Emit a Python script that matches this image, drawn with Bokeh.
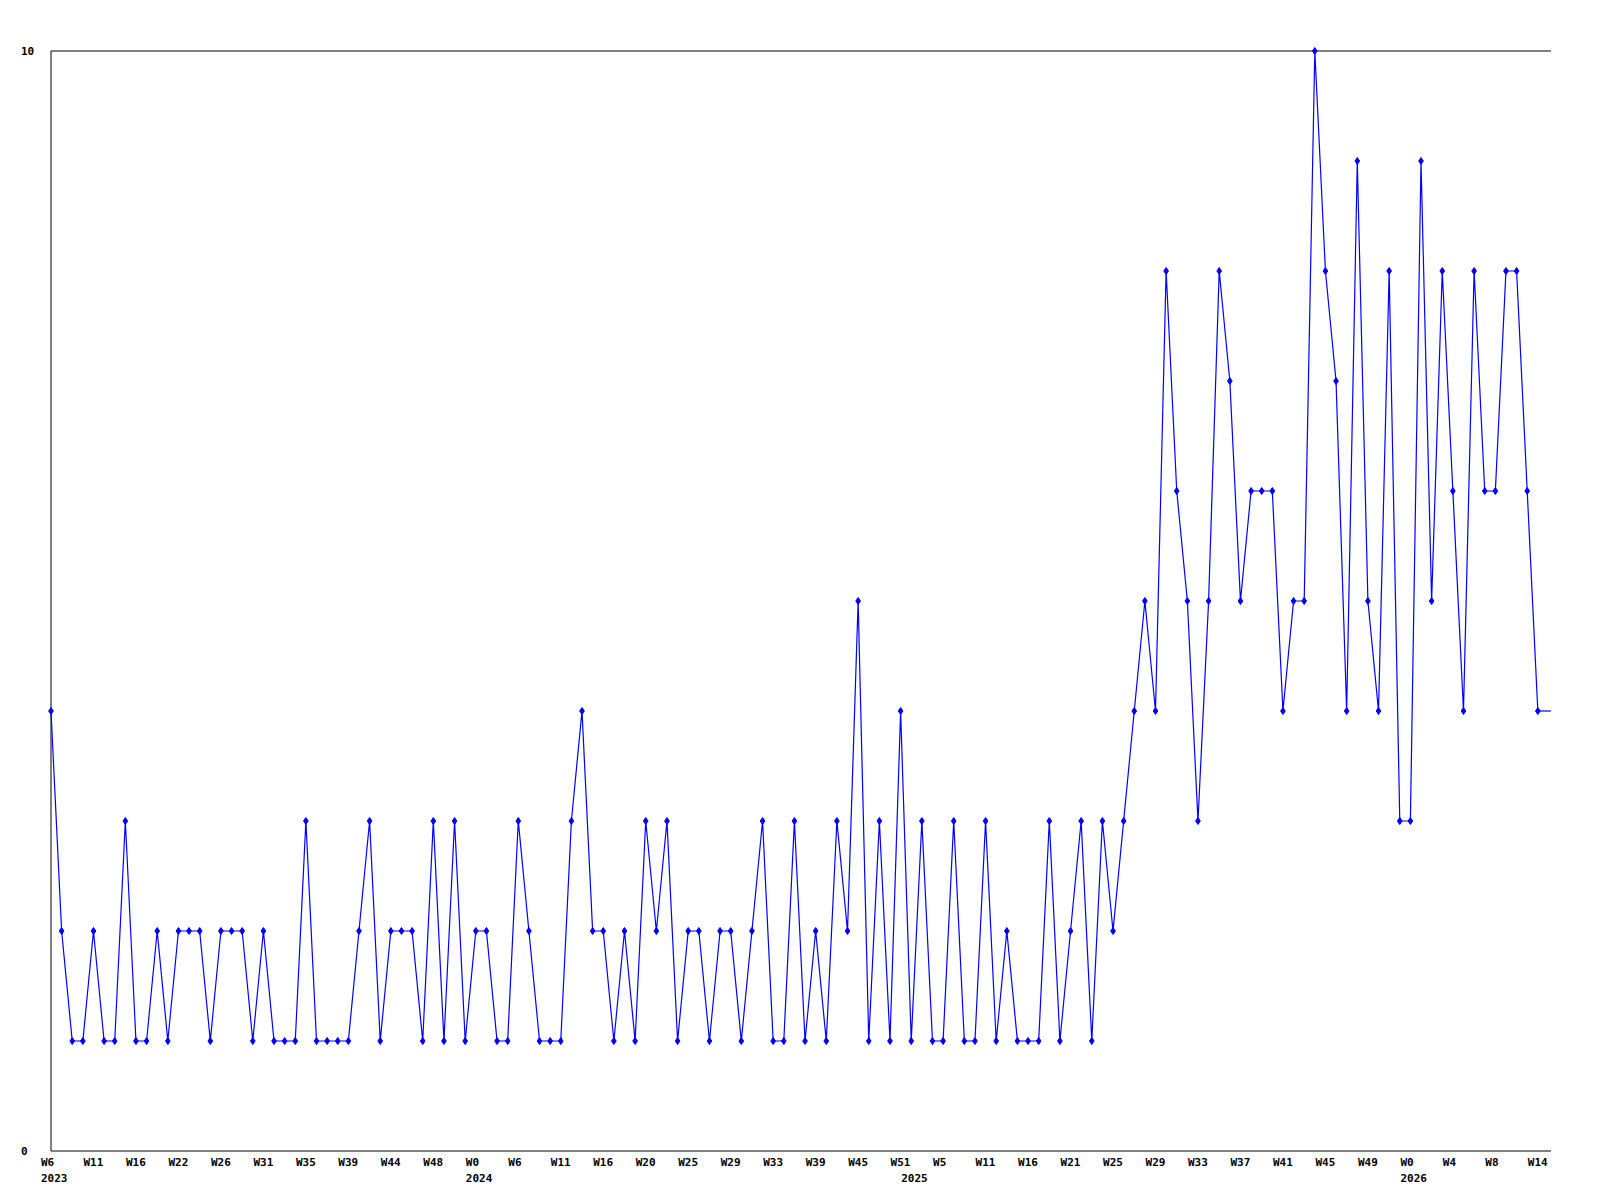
from bokeh.plotting import figure
from bokeh.models import ColumnDataSource, Range1d
from bokeh.core.properties import value
from bokeh.embed import file_html
from bokeh.resources import INLINE

# Weekly counts (one point per period)
values = [
    4, 2, 1, 1, 2, 1, 1, 3, 1, 1, 2, 1, 2, 2, 2, 1, 2, 2, 2, 1, 2, 1, 1, 1,
    3, 1, 1, 1, 1, 2, 3, 1, 2, 2, 2, 1, 3, 1, 3, 1, 2, 2, 1, 1, 3, 2, 1, 1,
    1, 3, 4, 2, 2, 1, 2, 1, 3, 2, 3, 1, 2, 2, 1, 2, 2, 1, 2, 3, 1, 1, 3,
    1, 2, 1, 3, 2, 5, 1, 3, 1, 4, 1, 3, 1, 1, 3, 1, 1, 3, 1, 2, 1, 1, 1, 3,
    1, 2, 3, 1, 3, 2, 3, 4, 5, 4, 8, 6, 5, 3, 5, 8, 7, 5, 6, 6, 6, 4, 5,
    5, 10, 8, 7, 4, 9, 5, 4, 8, 3, 3, 9, 5, 8, 6, 4, 8, 6, 6, 8, 8, 6, 4,
]

# Week tick labels, one on every 4th point
week_labels = [
    "W6", "W11", "W16", "W22", "W26", "W31", "W35", "W39", "W44", "W48",
    "W0", "W6", "W11", "W16", "W20", "W25", "W29", "W33", "W39", "W45",
    "W51", "W5", "W11", "W16", "W21", "W25", "W29", "W33", "W37", "W41",
    "W45", "W49", "W0", "W4", "W8", "W14",
]
week_tick_step = 4

# Year labels and the point where each year starts
year_labels = ["2023", "2024", "2025", "2026"]
year_start_index = [0, 40, 81, 128]

y_tick_values = [0, 10]
y_tick_labels = ["0", "10"]

n = len(values)
xs = list(range(n))

# ---- layout (pixels) ----
W, H = 1568, 1195
LEFT, TOP = 50.5, 50.5          # page position of x=0 / y=max
PLOT_W, PLOT_H = 1500, 1100
Y_MAX = 10
x_end = (n - 1) + 1.24          # right edge of the drawing area (index units)
px_x = PLOT_W / x_end
px_y = PLOT_H / Y_MAX

x_range = Range1d(-LEFT / px_x, (W - LEFT) / px_x)
y_range = Range1d(-(H - TOP - PLOT_H) / px_y, Y_MAX + TOP / px_y)

FONT = value("DejaVu Sans Mono")
BLUE = "#0000ff"

p = figure(
    width=W, height=H,
    output_backend="svg", toolbar_location=None,
    x_range=x_range, y_range=y_range,
    min_border=0, min_border_left=0, min_border_right=0,
    min_border_top=0, min_border_bottom=0,
)
p.xaxis.visible = False
p.yaxis.visible = False
p.grid.visible = False
p.outline_line_color = None
p.background_fill_color = "white"
p.border_fill_color = "white"

# frame lines: left, bottom, top
p.segment(x0=[0, 0, 0], y0=[0, 0, Y_MAX], x1=[0, x_end, x_end], y1=[Y_MAX, 0, Y_MAX],
          line_color="black", line_width=1)

src = ColumnDataSource(dict(x=xs, y=values))
p.line("x", "y", source=src, line_color=BLUE, line_width=1.2)
p.line([n - 1, x_end], [values[-1], values[-1]], line_color=BLUE, line_width=1.2)
p.scatter("x", "y", source=src, marker="diamond", size=7, color=BLUE)

txt = dict(text_font=FONT, text_font_size="11px", text_font_style="bold",
           text_color="black", text_align="left", text_baseline="middle")

tick_idx = [i * week_tick_step for i in range(len(week_labels))]
p.text(x=tick_idx, y=[-11 / px_y] * len(tick_idx), text=week_labels, x_offset=-10, **txt)
p.text(x=year_start_index, y=[-27 / px_y] * len(year_labels), text=year_labels, x_offset=-10, **txt)
p.text(x=[0] * len(y_tick_values), y=y_tick_values, text=y_tick_labels, x_offset=-30, **txt)

open("out.html", "w").write(file_html(p, INLINE))
